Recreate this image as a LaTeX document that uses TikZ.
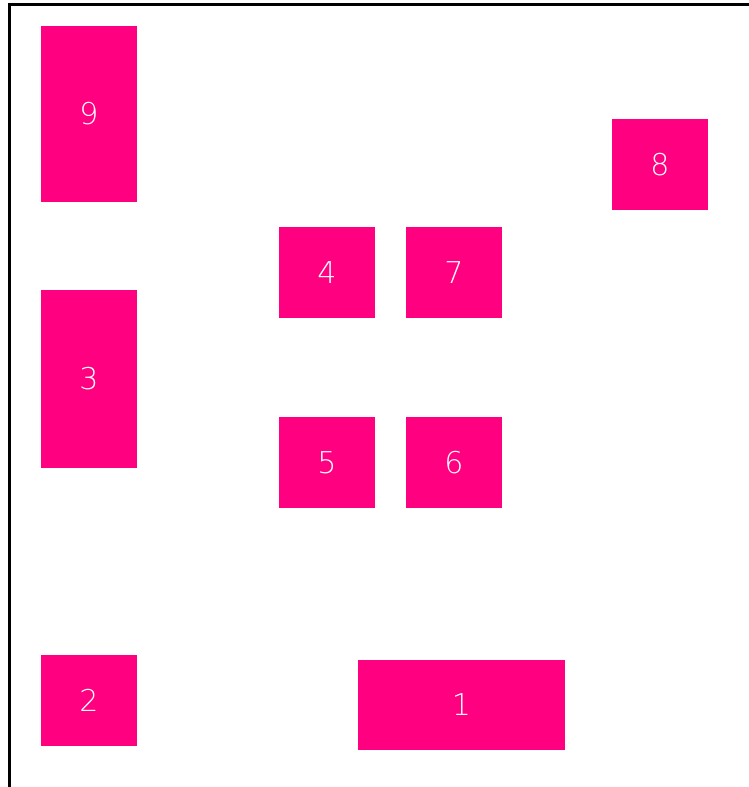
\documentclass[tikz,border=0pt]{standalone}
\usepackage{fontspec}
\setmainfont{DejaVu Sans ExtraLight}
\definecolor{boxpink}{HTML}{FF0080}
\begin{document}
\begin{tikzpicture}[x=1pt,y=-1pt,
  box/.style={fill=boxpink,text=white,inner sep=0pt,outer sep=0pt,font=\fontsize{30}{30}\selectfont},
  frame/.style={draw=black,line width=3pt}]
\useasboundingbox (0,0) rectangle (749,787);
\coordinate (fb) at (9.5,787);
\coordinate (fc) at (9.5,4.5);
\coordinate (fr) at (749,4.5);
\draw[frame] (fb) -- (fc) -- (fr);
\node[box,minimum width=96pt,minimum height=176pt] (n9) at (89,114) {9};
\node[box,minimum width=96pt,minimum height=91pt] (n8) at (660,164.5) {8};
\node[box,minimum width=96pt,minimum height=91pt] (n4) at (327,272.5) {4};
\node[box,minimum width=96pt,minimum height=91pt] (n7) at (454,272.5) {7};
\node[box,minimum width=96pt,minimum height=178pt] (n3) at (89,379) {3};
\node[box,minimum width=96pt,minimum height=91pt] (n5) at (327,462.5) {5};
\node[box,minimum width=96pt,minimum height=91pt] (n6) at (454,462.5) {6};
\node[box,minimum width=96pt,minimum height=91pt] (n2) at (89,700.5) {2};
\node[box,minimum width=207pt,minimum height=90pt] (n1) at (461.5,705) {1};
\end{tikzpicture}
\end{document}
